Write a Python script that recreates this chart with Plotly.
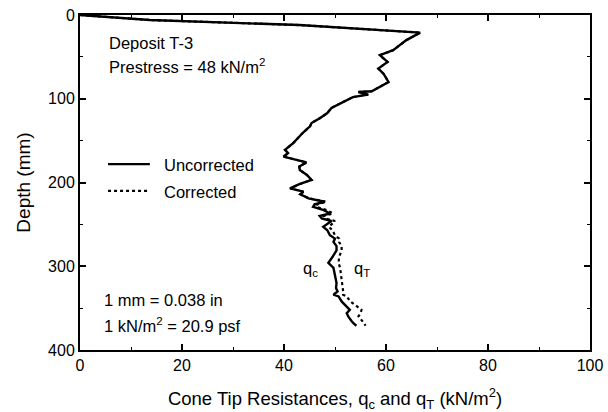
import plotly.graph_objects as go

# Depth (mm) and cone tip resistances (kN/m^2)
depth = [0, 6, 12, 17, 21, 30, 37, 42, 48, 56, 64, 70, 80, 86, 91, 92, 95, 98,
         101.5, 111, 117, 123, 129, 133, 140, 145, 153, 161, 165, 169, 173, 176,
         181, 185, 191, 197, 202, 207, 211, 214, 219, 223, 226, 229, 233, 237,
         240, 243, 246, 250, 253, 257, 263, 267, 271, 276, 281, 289, 296, 302,
         312, 320, 326, 330, 334, 336, 342, 347, 352, 356, 360, 365, 368, 371]

qc = [0.0, 13.7, 43.0, 55.0, 66.7, 64.0, 62.4, 61.4, 58.8, 60.3, 58.5, 59.5,
      60.5, 58.6, 57.2, 54.6, 56.5, 53.5, 52.3, 49.3, 48.5, 47.1, 45.4, 45.1,
      43.8, 43.1, 41.8, 40.2, 40.8, 39.9, 42.5, 44.4, 43.0, 43.1, 44.5, 45.4,
      43.0, 41.2, 43.8, 43.2, 44.8, 48.0, 46.0, 45.7, 47.8, 49.0, 47.0, 47.4,
      49.3, 48.3, 47.7, 48.5, 49.0, 50.0, 49.7, 50.3, 50.3, 49.5, 48.7, 49.7,
      50.0, 50.3, 50.2, 50.5, 49.7, 50.7, 51.3, 52.2, 52.9, 52.3, 52.6, 53.2,
      53.6, 54.2]

qT = [0.0, 13.7, 43.0, 55.0, 66.7, 64.0, 62.4, 61.4, 58.8, 60.3, 58.5, 59.5,
      60.5, 58.6, 57.2, 54.6, 56.5, 53.5, 52.3, 49.3, 48.5, 47.1, 45.4, 45.1,
      43.8, 43.1, 41.8, 40.2, 40.8, 39.9, 42.5, 44.4, 43.0, 43.1, 44.5, 45.4,
      43.0, 41.2, 43.8, 43.2, 45.0, 48.3, 46.5, 46.3, 48.4, 49.6, 47.8, 48.2,
      50.0, 49.2, 48.8, 49.5, 50.0, 50.8, 50.8, 51.3, 51.3, 50.8, 50.7, 51.0,
      51.2, 51.5, 51.6, 51.6, 51.6, 52.3, 53.0, 54.0, 55.2, 55.0, 54.6, 55.3,
      55.7, 56.0]

x_ticks = [0, 20, 40, 60, 80, 100]
y_ticks = [0, 100, 200, 300, 400]
series_names = ["Uncorrected", "Corrected"]

FONT = "Liberation Sans, Arial, sans-serif"
TXT = 16.5

fig = go.Figure()
fig.add_trace(go.Scatter(x=qT, y=depth, mode="lines", name=series_names[1],
                         showlegend=False,
                         line=dict(color="black", width=2.2, dash="dot")))
fig.add_trace(go.Scatter(x=qc, y=depth, mode="lines", name=series_names[0],
                         showlegend=False,
                         line=dict(color="black", width=2.4)))

ann = dict(showarrow=False, font=dict(family=FONT, size=TXT, color="black"),
           xanchor="left", yanchor="middle")
fig.add_annotation(x=5.2, y=34, text="Deposit T-3", **ann)
fig.add_annotation(x=5.2, y=61, text="Prestress = 48 kN/m<sup>2</sup>", **ann)
fig.add_annotation(x=4.3, y=340, text="1 mm = 0.038 in", **ann)
fig.add_annotation(x=4.3, y=370, text="1 kN/m<sup>2</sup> = 20.9 psf", **ann)
fig.add_annotation(x=43.3, y=303, text="q<sub>c</sub>", **ann)
fig.add_annotation(x=53.3, y=303, text="q<sub>T</sub>", **ann)

# Legend (drawn manually to match the long sample lines)
fig.add_shape(type="line", xref="x", yref="y", x0=5.5, x1=13.7, y0=178, y1=178,
              line=dict(color="black", width=2.4))
fig.add_shape(type="line", xref="x", yref="y", x0=5.5, x1=13.7, y0=210, y1=210,
              line=dict(color="black", width=2.2, dash="dot"))
fig.add_annotation(x=16.0, y=179, text=series_names[0], **ann)
fig.add_annotation(x=16.0, y=211, text=series_names[1], **ann)

axis_common = dict(showline=True, linewidth=2, linecolor="black", mirror="allticks",
                   ticks="inside", ticklen=6, tickwidth=1.5, tickcolor="black",
                   showgrid=False, zeroline=False, automargin=False,
                   tickfont=dict(family=FONT, size=16, color="black"))

fig.update_xaxes(range=[0, 100], tickvals=x_ticks,
                 minor=dict(ticks="inside", ticklen=3, tickwidth=1.2, dtick=10,
                            tickcolor="black"),
                 title=dict(text="Cone Tip Resistances, q<sub>c</sub> and q<sub>T</sub> (kN/m<sup>2</sup>)",
                            font=dict(family=FONT, size=18.5, color="black"), standoff=20),
                 **axis_common)
fig.update_yaxes(range=[400, 0], tickvals=y_ticks,
                 minor=dict(ticks="inside", ticklen=3, tickwidth=1.2, dtick=50,
                            tickcolor="black"),
                 title=dict(text="Depth (mm)",
                            font=dict(family=FONT, size=19, color="black"), standoff=12),
                 **axis_common)

fig.update_layout(
    width=608, height=412,
    margin=dict(l=80, r=18, t=15, b=62),
    paper_bgcolor="white", plot_bgcolor="white",
    showlegend=False,
)

fig.write_html("out.html")
